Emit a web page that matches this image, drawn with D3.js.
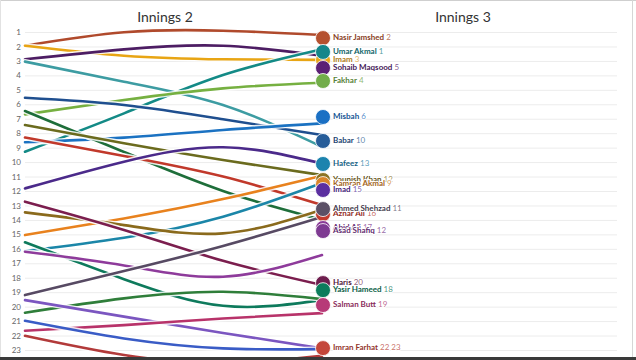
<!DOCTYPE html>
<html>
<head>
<meta charset="utf-8">
<script src="https://cdn.jsdelivr.net/npm/d3@7"></script>
<style>
  html, body { margin: 0; padding: 0; background: #fff; }
  svg { display: block; font-family: Lato, "Open Sans", sans-serif; }
</style>
</head>
<body>
<svg id="chart" width="636" height="360"></svg>
<script>
// ---------- data ----------
const innings = ["Innings 2", "Innings 3"];
const rankTicks = [1,2,3,4,5,6,7,8,9,10,11,12,13,14,15,16,17,18,19,20,21,22,23];

// rank of each trail at four evenly spaced steps of the transition
const lineAtStart     = [1.95, 1.95, 2.89, 9.28, 3.05, 6.70, 5.55, 8.63, 6.47, 7.44, 8.30, 11.82, 15.05, 16.16, 13.48, 12.74, 15.55, 16.20, 19.20, 20.42, 19.55, 21.67, 20.98, 22.02];
const lineAtThird     = [1.02, 2.64, 2.20, 6.63, 4.44, 5.71, 6.05, 8.31, 9.30, 8.70, 9.58, 9.97, 13.90, 15.24, 14.36, 14.70, 18.10, 17.15, 17.54, 19.43, 20.69, 21.28, 22.20, 23.35];
const lineAtTwoThirds = [0.91, 2.89, 1.95, 3.98, 6.05, 4.90, 7.04, 7.78, 12.00, 9.86, 11.00, 8.97, 12.56, 13.78, 14.93, 16.83, 19.94, 17.93, 15.80, 18.97, 21.82, 20.82, 22.89, 23.90];
const lineAtEnd       = [1.21, 2.93, 2.64, 2.20, 8.94, 4.51, 8.13, 7.32, 14.00, 10.90, 12.97, 10.10, 10.95, 11.45, 13.30, 18.50, 19.55, 16.43, 13.80, 19.48, 22.89, 20.45, 22.94, 23.40];
const lineColors = ["#b04a2c", "#e8a514", "#4d1d63", "#138a86", "#3d9ca2", "#76b041", "#1f4f8f", "#1b72c2",
                    "#1e6e3a", "#6b6b1e", "#c1392b", "#4b2a8a", "#e8821e", "#1b86a8", "#8a6a1c", "#7b1e4e",
                    "#0e7a5c", "#8e3b9b", "#574a63", "#2f7e3a", "#7b56c0", "#b8336a", "#3a5cc6", "#b23a3a"];

// players at the head of the transition
const players     = ["Imam", "Nasir Jamshed", "Umar Akmal", "Sohaib Maqsood", "Fakhar", "Misbah", "Babar", "Hafeez",
                     "Younish Khan", "Kamran Akmal", "Imad", "Azhar Ali", "Ahmed Shehzad", "Abid Ali", "Asad Shafiq",
                     "Haris", "Yasir Hameed", "Salman Butt", "Imran Farhat"];
const playerRanks = ["3", "2", "1", "5", "4", "6", "10", "13", "12", "9", "15", "16", "11", "17", "12", "20", "18", "19", "22 23"];
const playerPos   = [2.94, 1.42, 2.38, 3.49, 4.39, 6.88, 8.54, 10.13, 11.24, 11.52, 11.93, 13.6, 13.25, 14.56, 14.77, 18.37, 18.86, 19.89, 22.87];
const playerColors = ["#e8a61a", "#b5512f", "#14868a", "#5c2075", "#72ad4a", "#1a70c4", "#275d99", "#1c83ae",
                      "#8c7424", "#d9862a", "#5b2fa0", "#c23b2e", "#5b5066", "#8a3b97", "#7e3a92",
                      "#6e1e4e", "#0c7c5c", "#b73a78", "#c4463a"];

// ---------- layout ----------
const W = 636, H = 360;
const svg = d3.select("#chart");

const y = d3.scaleLinear().domain([1, 23]).range([32, 350]);
const x = d3.scaleLinear().domain([0, 3]).range([25, 322]);
const col = d3.scalePoint().domain(innings).range([165, 463]);

// frame
svg.append("line").attr("x1", 0).attr("x2", W).attr("y1", 0.5).attr("y2", 0.5).attr("stroke", "#cfcfcf");
svg.append("line").attr("x1", 632.5).attr("x2", 632.5).attr("y1", 0).attr("y2", H).attr("stroke", "#d6d6d6");
svg.append("line").attr("x1", 0.5).attr("x2", 0.5).attr("y1", 0).attr("y2", H).attr("stroke", "#e2e2e2");

// titles
svg.selectAll("text.title").data(innings).join("text")
  .attr("class", "title")
  .attr("x", d => col(d)).attr("y", 22)
  .attr("text-anchor", "middle")
  .attr("font-size", 14).attr("fill", "#333")
  .text(d => d);

// gridlines
svg.append("g").selectAll("line").data(rankTicks).join("line")
  .attr("x1", 25).attr("x2", 617)
  .attr("y1", d => y(d) + 0.5).attr("y2", d => y(d) + 0.5)
  .attr("stroke", "#ececec").attr("stroke-width", 1);

// y axis labels
const axis = svg.append("g").attr("transform", "translate(22,0)")
  .call(d3.axisLeft(y).tickValues(rankTicks).tickSize(0).tickPadding(1).tickFormat(d3.format("d")));
axis.select(".domain").remove();
axis.selectAll("text").attr("font-size", 8).attr("fill", "#666").attr("font-family", "Lato, sans-serif");

// clip
svg.append("clipPath").attr("id", "clip").append("rect")
  .attr("x", 22).attr("y", 0).attr("width", 310).attr("height", 357);

const series = lineColors.map((c, i) => ({
  color: c,
  pts: [lineAtStart[i], lineAtThird[i], lineAtTwoThirds[i], lineAtEnd[i]]
}));

const line = d3.line()
  .x((d, i) => x(i))
  .y(d => y(d))
  .curve(d3.curveNatural);

const lg = svg.append("g").attr("clip-path", "url(#clip)");
series.forEach(s => {
  lg.append("path").attr("d", line(s.pts))
    .attr("fill", "none").attr("stroke", "#fff").attr("stroke-opacity", 0.85)
    .attr("stroke-width", 5.5).attr("stroke-linecap", "round");
  lg.append("path").attr("d", line(s.pts))
    .attr("fill", "none").attr("stroke", s.color)
    .attr("stroke-width", 2.6).attr("stroke-linecap", "round");
});

// circles + labels
const heads = players.map((p, i) => ({ name: p, rank: playerRanks[i], pos: playerPos[i], color: playerColors[i] }));
const hx = x(3);

const hg = svg.append("g");
heads.forEach(h => {
  hg.append("circle").attr("cx", hx + 1).attr("cy", y(h.pos)).attr("r", 7.5)
    .attr("fill", h.color).attr("stroke", "#fff").attr("stroke-width", 0.8);
});

const tg = svg.append("g");
heads.forEach(h => {
  const c = d3.color(h.color);
  const t = tg.append("text")
    .attr("x", hx + 11).attr("y", y(h.pos))
    .attr("dominant-baseline", "middle")
    .attr("font-size", 8)
    .attr("stroke", "#fff").attr("stroke-width", 2).attr("paint-order", "stroke")
    .attr("stroke-linejoin", "round");
  t.append("tspan").attr("font-weight", 700).attr("fill", c.darker(0.8).formatHex()).text(h.name);
  t.append("tspan").attr("font-weight", 400).attr("fill", c.darker(0.2).formatHex()).attr("fill-opacity", 0.75).text(" " + h.rank);
});

// bottom bar
svg.append("rect").attr("x", 0).attr("y", 357).attr("width", W).attr("height", 3).attr("fill", "#3a3a3a");
</script>
</body>
</html>
